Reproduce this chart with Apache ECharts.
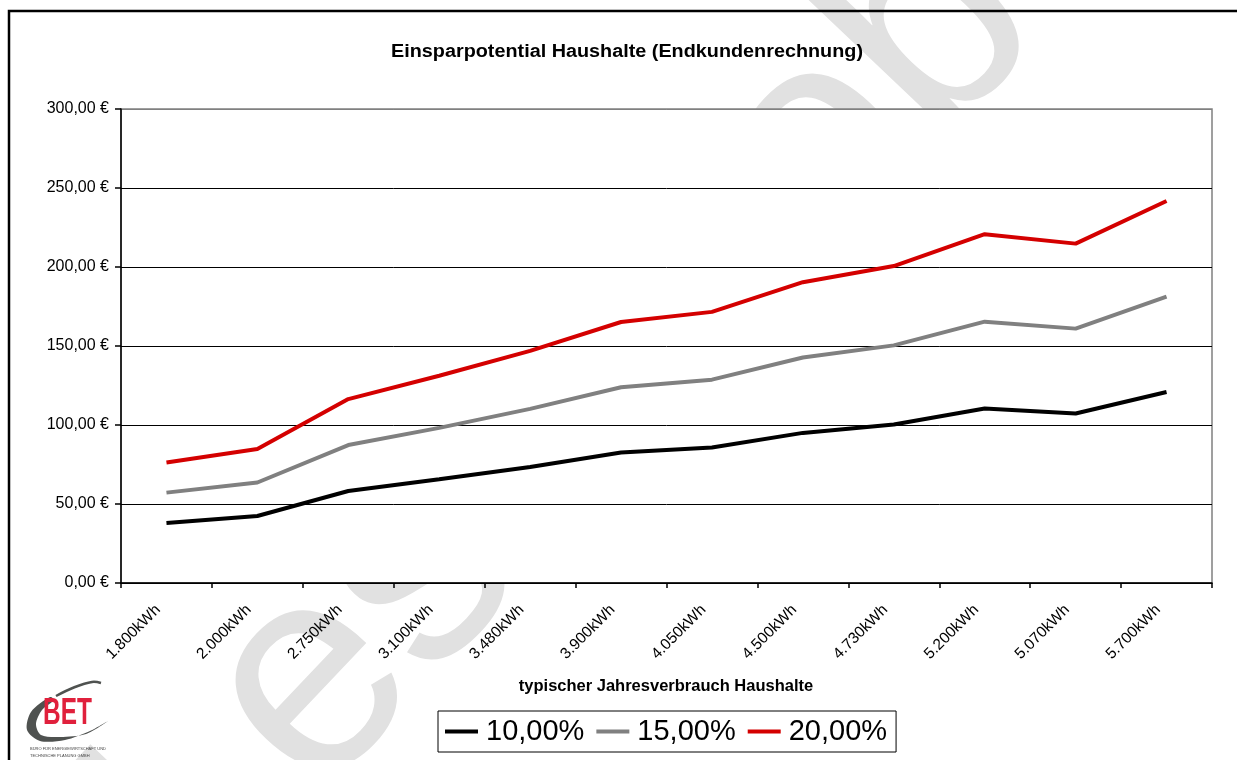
<!DOCTYPE html>
<html>
<head>
<meta charset="utf-8">
<script src="https://cdn.jsdelivr.net/npm/echarts@6/dist/echarts.min.js"></script>
<style>
  html, body { margin: 0; padding: 0; background: #fff; }
  #chart { width: 1237px; height: 760px; }
</style>
</head>
<body>
<div id="chart"></div>
<script>
// Verbrauchsklassen (x-Achse)
var categories = ["1.800kWh", "2.000kWh", "2.750kWh", "3.100kWh", "3.480kWh", "3.900kWh",
  "4.050kWh", "4.500kWh", "4.730kWh", "5.200kWh", "5.070kWh", "5.700kWh"];

// Einsparung in EUR je Szenario
var seriesNames = ["10,00%", "15,00%", "20,00%"];
var save10 = [38, 42.4, 58.2, 65.6, 73.4, 82.6, 85.8, 95, 100.3, 110.4, 107.3, 120.9];
var save15 = [57.2, 63.6, 87.3, 98.2, 110.2, 123.9, 128.7, 142.7, 150.4, 165.4, 161, 181.3];
var save20 = [76.3, 84.8, 116.4, 131.2, 146.9, 165.2, 171.6, 190.4, 200.6, 220.8, 214.8, 241.8];

var yTickLabels = ["0,00 €", "50,00 €", "100,00 €", "150,00 €", "200,00 €", "250,00 €", "300,00 €"];

var chart = echarts.init(document.getElementById("chart"));

var font = "Arial, 'Liberation Sans', sans-serif";
var gridColors = ["#000", "#000", "#000", "#000", "#000", "#000", "#808080"];
var logoGrey = "#4f5250";

var option = {
  animation: false,
  textStyle: { fontFamily: font, color: "#000" },
  grid: {
    left: 121,
    right: 25,
    top: 109,
    bottom: 177,
    show: true,
    backgroundColor: "#fff",
    borderColor: "#808080",
    borderWidth: 1.5
  },
  legend: {
    data: seriesNames,
    left: 438,
    top: 711,
    orient: "horizontal",
    icon: "rect",
    itemWidth: 33,
    itemHeight: 4,
    itemGap: 12,
    padding: [6, 9, 6, 7],
    borderColor: "#000",
    borderWidth: 1,
    backgroundColor: "#fff",
    textStyle: { fontSize: 29, color: "#000", fontFamily: font, padding: [0, 0, 0, 3] }
  },
  xAxis: {
    type: "category",
    data: categories,
    boundaryGap: true,
    axisLine: { lineStyle: { color: "#000", width: 1.5 } },
    axisTick: { show: true, length: 5, lineStyle: { color: "#000", width: 1.5 } },
    axisLabel: {
      rotate: 45, margin: 16, fontSize: 15.5, color: "#000", fontFamily: font,
      interval: 0, padding: [0, 12, 0, 0]
    }
  },
  yAxis: {
    type: "value",
    min: 0,
    max: 300,
    interval: 50,
    axisLine: { show: true, lineStyle: { color: "#000", width: 1.5 } },
    axisTick: { show: true, length: 6, lineStyle: { color: "#000", width: 1.5 } },
    axisLabel: {
      margin: 12,
      fontSize: 16,
      color: "#000",
      fontFamily: font,
      formatter: function (v) { return yTickLabels[Math.round(v / 50)]; }
    },
    splitLine: { show: true, lineStyle: { color: gridColors, width: 1 } }
  },
  series: [
    { name: seriesNames[0], type: "line", data: save10, symbol: "none",
      lineStyle: { color: "#000", width: 4 }, itemStyle: { color: "#000" } },
    { name: seriesNames[1], type: "line", data: save15, symbol: "none",
      lineStyle: { color: "#808080", width: 4 }, itemStyle: { color: "#808080" } },
    { name: seriesNames[2], type: "line", data: save20, symbol: "none",
      lineStyle: { color: "#d40000", width: 4 }, itemStyle: { color: "#d40000" } }
  ],
  graphic: [
    // Wasserzeichen (eigene Ebene ganz unten)
    {
      type: "text",
      zlevel: -1,
      x: 250,
      y: 967,
      rotation: Math.PI * 46.5 / 180,
      style: {
        text: "Leseprobe",
        font: "295px Arial, 'Liberation Sans', sans-serif",
        fill: "#e1e1e1",
        textAlign: "left",
        textVerticalAlign: "bottom"
      }
    },
    // Titel
    {
      type: "text",
      z: 100,
      x: 627,
      y: 52,
      scaleX: 1.1,
      style: {
        text: "Einsparpotential Haushalte (Endkundenrechnung)",
        font: "bold 18px Arial, 'Liberation Sans', sans-serif",
        fill: "#000",
        textAlign: "center",
        textVerticalAlign: "middle"
      }
    },
    // Rahmen
    {
      type: "rect",
      z: 100,
      shape: { x: 9, y: 11, width: 1260, height: 800 },
      style: { fill: null, stroke: "#000", lineWidth: 2.5 }
    },
    // Achsentitel
    {
      type: "text",
      z: 50,
      x: 666,
      y: 686,
      style: {
        text: "typischer Jahresverbrauch Haushalte",
        font: "bold 16.5px Arial, 'Liberation Sans', sans-serif",
        fill: "#000",
        textAlign: "center",
        textVerticalAlign: "middle"
      }
    },
    // Logo
    {
      type: "polygon",
      z: 50,
      shape: {
        points: [[50, 697], [31, 712], [27, 730], [40, 741], [65, 740], [90, 731], [108, 721],
          [86, 734], [60, 737], [41, 735], [36, 724], [42, 710], [54, 700]],
        smooth: 0.3
      },
      style: { fill: logoGrey }
    },
    {
      type: "polyline",
      z: 50,
      shape: { points: [[56, 696], [75, 687], [92, 682], [101, 683]], smooth: 0.4 },
      style: { stroke: logoGrey, lineWidth: 2.5, fill: null }
    },
    {
      type: "text",
      z: 51,
      x: 43,
      y: 695,
      scaleX: 0.66,
      style: {
        text: "BET",
        font: "900 37px Arial, 'Liberation Sans', sans-serif",
        fill: "#e0203c",
        textAlign: "left",
        textVerticalAlign: "top"
      }
    },
    {
      type: "text",
      z: 51,
      x: 30,
      y: 745,
      style: {
        text: "BÜRO FÜR ENERGIEWIRTSCHAFT UND\nTECHNISCHE PLANUNG GMBH",
        font: "4px Arial, 'Liberation Sans', sans-serif",
        fill: "#444",
        lineHeight: 7,
        textAlign: "left",
        textVerticalAlign: "top"
      }
    }
  ]
};

chart.setOption(option);
</script>
</body>
</html>
